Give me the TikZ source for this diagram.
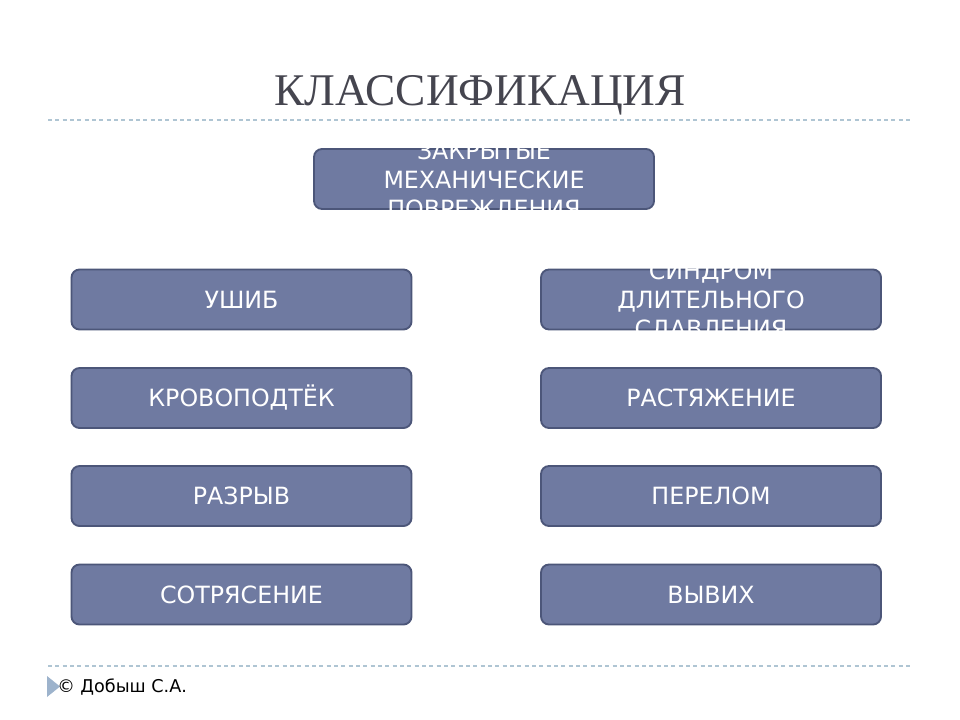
\documentclass[tikz,border=0pt]{standalone}
\usepackage{fontspec}
\setmainfont{DejaVu Sans}
\newfontfamily\titlefont{Liberation Serif}
\definecolor{boxfill}{HTML}{6F7AA1}
\definecolor{boxline}{HTML}{4C5679}
\definecolor{titlegray}{HTML}{45454F}
\definecolor{dashcol}{HTML}{AFC5D3}
\definecolor{tricol}{HTML}{9DB3CC}
\begin{document}
\begin{tikzpicture}[x=0.75pt,y=-0.75pt,
  catbox/.style={draw=boxline,line width=1.4pt,fill=boxfill,rounded corners=6pt,
    minimum width=255pt,minimum height=45pt,inner sep=0pt,text=white,
    font=\fontsize{17.8}{21.7}\selectfont,align=center},
  cattext/.style={inner sep=0pt,text=white,font=\fontsize{17.8}{21.7}\selectfont,align=center},
  sepline/.style={dashcol,line width=0.9pt,dash pattern=on 3pt off 2.5pt}]
\useasboundingbox (0,0) rectangle (960,720);
\fill[white] (0,0) rectangle (960,720);
\node[text=titlegray,font=\titlefont\fontsize{34}{38}\selectfont] (title) at (480,95) {КЛАССИФИКАЦИЯ};
\coordinate (tl1) at (48,120); \coordinate (tl2) at (912,120);
\draw[sepline] (tl1) -- (tl2);
\node[catbox] (top) at (484,179) {};
\node[cattext] (toptext) at ([yshift=-2pt]top.center) {ЗАКРЫТЫЕ\\МЕХАНИЧЕСКИЕ\\ПОВРЕЖДЕНИЯ};
\node[catbox] (l1) at (241.5,299.5) {УШИБ};
\node[catbox] (l2) at (241.5,398) {КРОВОПОДТЁК};
\node[catbox] (l3) at (241.5,496) {РАЗРЫВ};
\node[catbox] (l4) at (241.5,594.5) {СОТРЯСЕНИЕ};
\node[catbox] (r1) at (711,299.5) {};
\node[cattext] (r1text) at ([yshift=-1.5pt]r1.center) {СИНДРОМ\\ДЛИТЕЛЬНОГО\\СДАВЛЕНИЯ};
\node[catbox] (r2) at (711,398) {РАСТЯЖЕНИЕ};
\node[catbox] (r3) at (711,496) {ПЕРЕЛОМ};
\node[catbox] (r4) at (711,594.5) {ВЫВИХ};
\coordinate (fl1) at (48,666); \coordinate (fl2) at (912,666);
\draw[sepline] (fl1) -- (fl2);
\fill[tricol] (47,676) -- (60,686.5) -- (47,697) -- cycle;
\node[anchor=west,inner sep=0pt,font=\fontsize{13.2}{15}\selectfont] (foot) at (57,687) {© Добыш С.А.};
\end{tikzpicture}
\end{document}
